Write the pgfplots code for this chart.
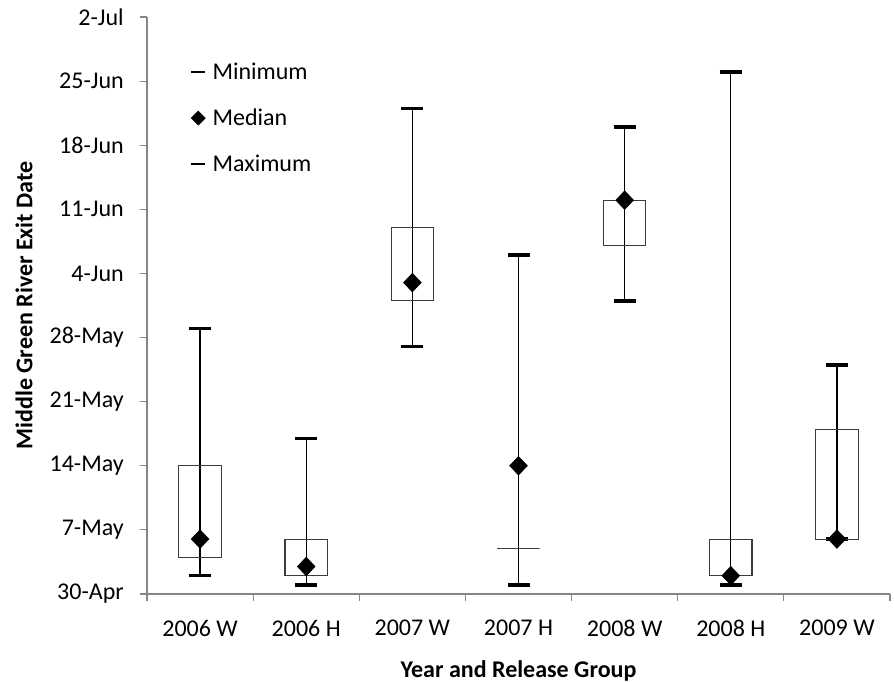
\documentclass[border=0pt]{standalone}
\usepackage{pgfplots}
\pgfplotsset{compat=1.18}
\usepackage{pgfplotstable}
\usepackage{fontspec}
\setmainfont{Carlito}
\definecolor{axgray}{RGB}{134,134,134}
\definecolor{boxgray}{RGB}{60,60,60}

% days after 30-Apr
\pgfplotstableread{
x min q1 med q3 max
0 2 4 6 14 29
1 1 2 3 6 17
2 27 32 34 40 53
3 1 5 14 5 37
4 32 38 43 43 51
5 1 2 2 6 57
6 6 6 6 18 25
}\datatable

\newcommand{\datelabel}[1]{\ifcase#1 30-Apr\or 7-May\or 14-May\or 21-May\or 28-May\or 4-Jun\or 11-Jun\or 18-Jun\or 25-Jun\or 2-Jul\fi}

\begin{document}
\begin{tikzpicture}
\begin{axis}[
  name=ax,
  scale only axis,
  width=557.25pt, height=432.75pt,
  xmin=-0.5, xmax=6.5, ymin=0, ymax=63,
  axis x line*=bottom, axis y line*=left,
  axis line style={axgray, line width=0.9pt},
  tick align=outside,
  major tick length=5.25pt,
  tick style={axgray, line width=0.9pt},
  xtick={-0.5,0.5,1.5,2.5,3.5,4.5,5.5,6.5},
  x tick label as interval,
  xticklabels={2006 W,2006 H,2007 W,2007 H,2008 W,2008 H,2009 W},
  ytick={0,7,14,21,28,35,42,49,56,63},
  yticklabel={\datelabel{\ticknum}},
  tick label style={font=\fontsize{18}{21}\selectfont, black},
  yticklabel style={anchor=east, inner sep=0pt, xshift=-12pt},
  xticklabel style={anchor=north, inner sep=0pt, yshift=-14.25pt},
  xlabel={Year and Release Group},
  ylabel={Middle Green River Exit Date},
  every axis x label/.style={at={(axis description cs:0.5,-0.1155)}, anchor=north, inner sep=0pt,
    font=\bfseries\fontsize{18}{21}\selectfont},
  every axis y label/.style={at={(axis description cs:-0.1655,0.5)}, rotate=90, anchor=center, inner sep=0pt,
    font=\bfseries\fontsize{18}{21}\selectfont},
  legend cell align=left,
  legend style={draw=none, fill=none, at={(axis description cs:0,1)}, anchor=north west,
    xshift=32.25pt, yshift=-34pt, inner sep=0pt,
    font=\fontsize{18}{21}\selectfont, row sep=20.75pt,
    nodes={inner sep=0pt},
    /tikz/every odd column/.append style={column sep=5.25pt}},
]
% whiskers with caps (min to max)
\addplot[only marks, mark=none, forget plot,
  error bars/.cd, y dir=both, y explicit,
  error bar style={draw=black, solid, line width=0.9pt},
  error mark=-, error mark options={draw=black, solid, line width=2.6pt, mark size=8.25pt, rotate=90}]
  table[x=x, y=med, y error plus expr=\thisrow{max}-\thisrow{med}, y error minus expr=\thisrow{med}-\thisrow{min}] {\datatable};
% boxes (q1 to q3)
\addplot[boxgray, line width=0.8pt, line cap=rect, forget plot] coordinates {(-0.2,4) (0.2,4) (0.2,14) (-0.2,14) (-0.2,4)};
\addplot[boxgray, line width=0.8pt, line cap=rect, forget plot] coordinates {(0.8,2) (1.2,2) (1.2,6) (0.8,6) (0.8,2)};
\addplot[boxgray, line width=0.8pt, line cap=rect, forget plot] coordinates {(1.8,32) (2.2,32) (2.2,40) (1.8,40) (1.8,32)};
\addplot[boxgray, line width=0.8pt, line cap=rect, forget plot] coordinates {(2.8,5) (3.2,5) (3.2,5) (2.8,5) (2.8,5)};
\addplot[boxgray, line width=0.8pt, line cap=rect, forget plot] coordinates {(3.8,38) (4.2,38) (4.2,43) (3.8,43) (3.8,38)};
\addplot[boxgray, line width=0.8pt, line cap=rect, forget plot] coordinates {(4.8,2) (5.2,2) (5.2,6) (4.8,6) (4.8,2)};
\addplot[boxgray, line width=0.8pt, line cap=rect, forget plot] coordinates {(5.8,6) (6.2,6) (6.2,18) (5.8,18) (5.8,6)};
% medians
\addplot[only marks, mark=diamond*, mark size=7pt, mark options={xscale=1.27, fill=black, draw=none}, forget plot]
  table[x=x, y=med] {\datatable};
% legend
\addlegendimage{legend image code/.code={\draw[black, line width=1.5pt] (0pt,0pt) -- (10pt,0pt);}}
\addlegendentry{Minimum}
\addlegendimage{legend image code/.code={\fill[black] (0pt,0pt) -- (5.25pt,5.25pt) -- (10.5pt,0pt) -- (5.25pt,-5.25pt) -- cycle;}}
\addlegendentry{Median}
\addlegendimage{legend image code/.code={\draw[black, line width=1.5pt] (0pt,0pt) -- (10pt,0pt);}}
\addlegendentry{Maximum}
\end{axis}
\pgfresetboundingbox
\path ([shift={(-110.25pt,-66pt)}]ax.south west) rectangle ([shift={(3pt,12.75pt)}]ax.north east);
\end{tikzpicture}
\end{document}
